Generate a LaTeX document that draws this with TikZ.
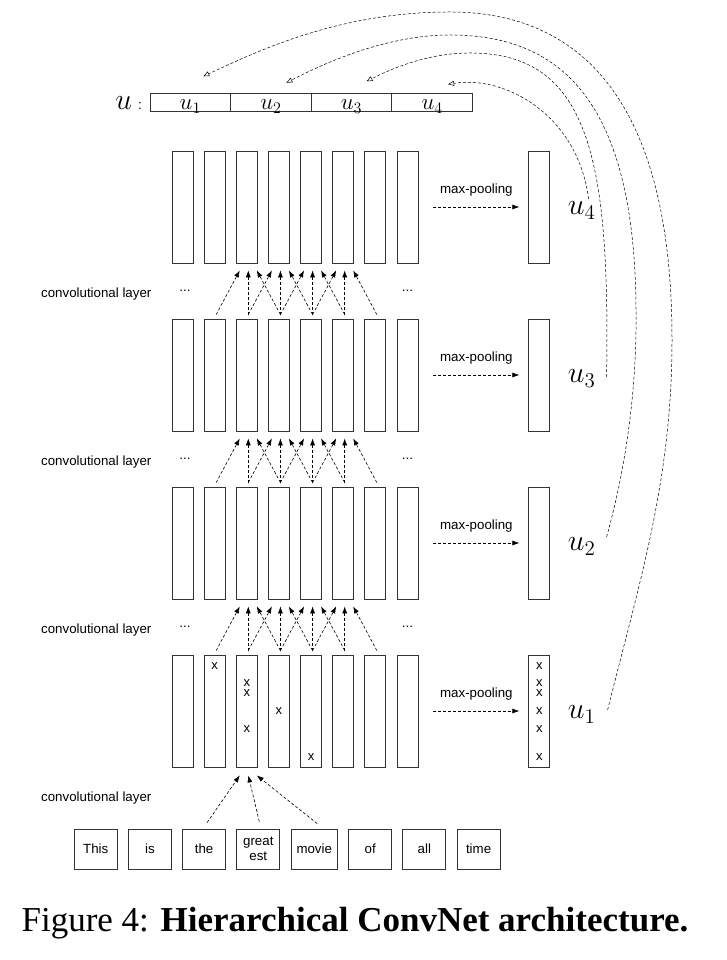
\documentclass[tikz,border=0pt]{standalone}
\usepackage[no-math]{fontspec}
\setmainfont{Liberation Serif}
\setsansfont{Liberation Sans}
\DeclareFontShape{OML}{cmm}{m}{it}{<->cmmi12}{}
\DeclareFontShape{OT1}{cmr}{m}{n}{<->cmr12}{}
\usetikzlibrary{positioning,calc,arrows.meta}

\tikzset{
	col/.style = {draw=black!80, line width=0.8pt, minimum width=21pt, minimum height=112pt, inner sep=0pt},
	word/.style = {draw=black!80, line width=0.8pt, minimum width=43pt, minimum height=40pt, inner sep=5.5pt, align=center, font=\sffamily\fontsize{13.3}{15}\selectfont},
	cell/.style = {draw=black!80, line width=0.8pt, minimum width=80.6pt, minimum height=18.4pt, inner sep=0pt, outer sep=0pt, text height=16pt, text depth=2.4pt, font=\fontsize{23}{25}\selectfont},
	xmark/.style = {inner sep=0pt, font=\sffamily\fontsize{13}{15}\selectfont},
	lbl/.style = {inner sep=0pt, font=\sffamily\fontsize{13.3}{15}\selectfont},
	ulbl/.style = {inner sep=0pt, anchor=base west, font=\fontsize{30}{32}\selectfont},
	conv/.style = {dash pattern=on 3pt off 2pt, line width=0.6pt, -{Latex[length=7pt,width=5pt]}},
	feed/.style = {dash pattern=on 3pt off 2pt, line width=0.5pt, -{Triangle[open,length=6pt,width=5pt]}}
}

\begin{document}
\begin{tikzpicture}[x=1pt, y=1pt]
	\useasboundingbox (0,0) rectangle (727,960);

	% input words
	\node[word] (w1) at (95.7,111) {This};
	\node[word, right=10.4pt of w1] (w2) {is};
	\node[word, right=10.4pt of w2] (w3) {the};
	\node[word, right=10.4pt of w3] (w4) {great\\est};
	\node[word, right=10.4pt of w4] (w5) {movie};
	\node[word, right=10.4pt of w5] (w6) {of};
	\node[word, right=10.4pt of w6] (w7) {all};
	\node[word, right=10.4pt of w7] (w8) {time};

	% feature maps, pooling and layer labels
	\foreach \l in {1,...,4} {
		\foreach \i in {1,...,8}
			\node[col] (L\l-\i) at ({182.5+32.14*(\i-1)}, {249+168*(\l-1)}) {};
		\node[col, right=110pt of L\l-8] (p\l) {};
		\draw[conv] ($(L\l-8.east)+(15,0)$) -- node[lbl, anchor=base, yshift=13.5pt] {max-pooling} ($(p\l.west)+(-9,0)$);
		\node[ulbl] (u\l) at ($(p\l.east)+(17.5,-8)$) {$u_\l$};
		\node[lbl, anchor=west] (conv\l) at ($(L\l-1.center)+(-141.5,-87)$) {convolutional layer};
	}
	\foreach \l in {2,3,4} {
		\node[lbl] (dl\l) at ($(L\l-1.center)+(2.5,-84)$) {...};
		\node[lbl] (dr\l) at ($(L\l-8.center)+(0,-84)$) {...};
	}

	% convolutions, width 3
	\foreach \l [evaluate=\l as \m using int(\l+1)] in {1,2,3}
		\foreach \t in {3,...,6}
			\foreach \d/\o in {-1/-7, 0/1.5, 1/10} {
				\pgfmathtruncatemacro{\s}{\t+\d}
				\draw[conv] ($(L\l-\s.north)+(1.5,4)$) -- ($(L\m-\t.south)+(\o,-7)$);
			}
	\draw[conv] ($(w3.north)+(3,6)$) -- ($(L1-3.south)+(-7,-8)$);
	\draw[conv] ($(w4.north)+(1,7)$) -- ($(L1-3.south)+(1.5,-8)$);
	\draw[conv] ($(w5.north)+(3,5)$) -- ($(L1-3.south)+(10,-8)$);

	% activations
	\foreach \c/\dy [count=\k] in {2/45, 3/28, 3/18, 3/-18, 4/0, 5/-46}
		\node[xmark] (x\k) at ($(L1-\c)+(0,\dy)$) {x};
	\foreach \dy [count=\k] in {45,28,18,0,-18,-46}
		\node[xmark] (px\k) at ($(p1)+(0,\dy)$) {x};

	% concatenated vector
	\node[cell] (v1) at (190.3,857.5) {$u_1$};
	\node[cell, right=0pt of v1] (v2) {$u_2$};
	\node[cell, right=0pt of v2] (v3) {$u_3$};
	\node[cell, right=0pt of v3] (v4) {$u_4$};
	\node[anchor=base east, inner sep=0pt] (ulab) at ($(v1.base west)+(-8,0)$) {\fontsize{30}{32}\selectfont$u$\hspace{6pt}{\sffamily\fontsize{13.3}{15}\selectfont :}};

	\coordinate (t1) at ($(v1.north)+(13,17)$);
	\coordinate (t2) at ($(v2.north)+(15.5,10.5)$);
	\coordinate (t3) at ($(v3.north)+(15,12)$);
	\coordinate (t4) at ($(v4.north)+(16,9)$);
	\draw[feed] ($(u1.east)+(12,5)$) .. controls (640,380) and (672,480) .. (672,620) .. controls (672,860) and (580,948) .. (450,948) .. controls (340,948) and (260,910) .. (t1);
	\draw[feed] ($(u2.east)+(11,10)$) .. controls (628,500) and (637,580) .. (636,650) .. controls (635,860) and (560,925) .. (450,925) .. controls (390,925) and (330,900) .. (t2);
	\draw[feed] ($(u3.east)+(11,2)$) .. controls (610,800) and (590,907) .. (470,907) .. controls (430,907) and (395,893) .. (t3);
	\draw[feed] ($(u4.east)+(-7,12)$) .. controls (578,845) and (505,885) .. (t4);

	\node[anchor=base, inner sep=0pt, font=\fontsize{35}{40}\selectfont] (caption) at (355,28.3) {Figure 4: \textbf{Hierarchical ConvNet architecture.}};
\end{tikzpicture}
\end{document}
